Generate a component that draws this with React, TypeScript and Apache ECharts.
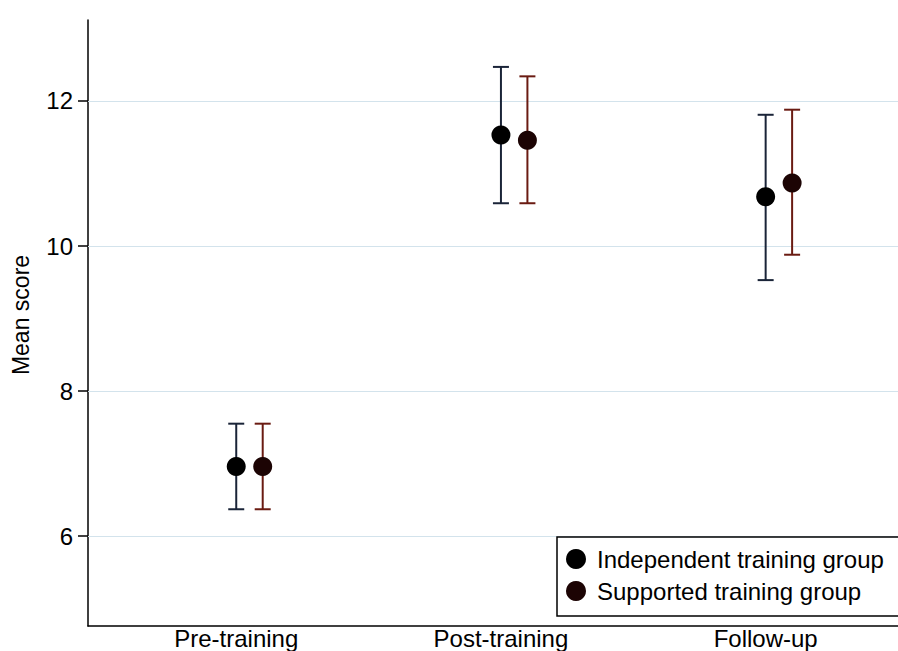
import React, { useEffect, useRef } from "react";
import * as echarts from "echarts";

const categories = ["Pre-training", "Post-training", "Follow-up"];
const categoryPositions = [1, 2, 3];
const groupOffset = 0.1;
const independentMean = [6.96, 11.53, 10.68];
const independentLow = [6.37, 10.59, 9.53];
const independentHigh = [7.55, 12.47, 11.81];
const supportedMean = [6.96, 11.46, 10.87];
const supportedLow = [6.37, 10.59, 9.88];
const supportedHigh = [7.55, 12.34, 11.88];
const yTicks = [6, 8, 10, 12];
const seriesNames = ["Independent training group", "Supported training group"];

const FONT = "'Liberation Sans', Arial, Helvetica, sans-serif";

function errorSeries(name: string, xs: number[], lows: number[], highs: number[], color: string) {
  return {
    type: "custom",
    name: name + " CI",
    silent: true,
    data: xs.map((x, i) => [x, lows[i], highs[i]]),
    encode: { x: 0, y: [1, 2] },
    renderItem: (params: any, api: any) => {
      const x = api.value(0);
      const lo = api.coord([x, api.value(1)]);
      const hi = api.coord([x, api.value(2)]);
      const hw = 8;
      const style = { stroke: color, lineWidth: 2 };
      return {
        type: "group",
        children: [
          { type: "line", shape: { x1: lo[0], y1: lo[1], x2: hi[0], y2: hi[1] }, style },
          { type: "line", shape: { x1: lo[0] - hw, y1: lo[1], x2: lo[0] + hw, y2: lo[1] }, style },
          { type: "line", shape: { x1: hi[0] - hw, y1: hi[1], x2: hi[0] + hw, y2: hi[1] }, style },
        ],
      };
    },
    z: 2,
  };
}

export default function App() {
  const ref = useRef<HTMLDivElement>(null);
  useEffect(() => {
    if (!ref.current) return;
    const chart = echarts.init(ref.current, undefined, { renderer: "svg" });
    const indX = categoryPositions;
    const supX = categoryPositions.map((p) => p + groupOffset);
    chart.setOption({
      animation: false,
      backgroundColor: "#ffffff",
      textStyle: { fontFamily: FONT },
      grid: { left: 88, right: 0, top: 20, bottom: 25, containLabel: false },
      graphic: [
        {
          type: "rect",
          z: 3,
          silent: true,
          shape: { x: 557, y: 537, width: 360, height: 79 },
          style: { fill: "#ffffff", stroke: "#000000", lineWidth: 1.5 },
        },
      ],
      legend: {
        orient: "vertical",
        left: 557,
        top: 537,
        z: 5,
        padding: [10, 10, 11, 9],
        itemGap: 8,
        itemWidth: 20,
        itemHeight: 20,
        backgroundColor: "transparent",
        borderWidth: 0,
        data: [
          { name: seriesNames[0], icon: "circle" },
          { name: seriesNames[1], icon: "circle" },
        ],
        textStyle: { fontSize: 24, color: "#000", fontFamily: FONT, padding: [0, 0, 0, 6] },
        selectedMode: false,
      },
      xAxis: {
        type: "value",
        min: 0.44,
        max: 3.5,
        axisLine: { show: true, lineStyle: { color: "#000", width: 1.5 } },
        axisTick: { show: false },
        splitLine: { show: false },
        axisLabel: {
          customValues: categoryPositions,
          formatter: (v: number) => categories[categoryPositions.indexOf(Math.round(v))] ?? "",
          fontSize: 24,
          color: "#000",
          margin: 0,
          fontFamily: FONT,
        },
      },
      yAxis: {
        type: "value",
        min: 4.76,
        max: 13.117,
        name: "Mean score",
        nameLocation: "middle",
        nameGap: 56,
        nameTextStyle: { fontSize: 23, color: "#000", fontFamily: FONT, padding: [0, 0, 0, 16] },
        axisLine: { show: true, lineStyle: { color: "#000", width: 1.5 } },
        axisTick: { show: true, customValues: yTicks, length: 10, lineStyle: { color: "#000", width: 1.5 } },
        splitLine: { show: false },
        axisLabel: {
          customValues: yTicks,
          fontSize: 24,
          color: "#000",
          margin: 15,
          fontFamily: FONT,
        },
      },
      series: [
        errorSeries(seriesNames[0], indX, independentLow, independentHigh, "#1a2438"),
        errorSeries(seriesNames[1], supX, supportedLow, supportedHigh, "#6a1b12"),
        {
          type: "scatter",
          name: seriesNames[0],
          data: indX.map((x, i) => [x, independentMean[i]]),
          symbol: "circle",
          symbolSize: 19,
          itemStyle: { color: "#000000", opacity: 1 },
          z: 3,
          markLine: {
            silent: true,
            symbol: "none",
            label: { show: false },
            lineStyle: { color: "#d3e3ec", width: 1.2, type: "solid" },
            data: yTicks.map((t) => ({ yAxis: t })),
            z: 1,
          },
        },
        {
          type: "scatter",
          name: seriesNames[1],
          data: supX.map((x, i) => [x, supportedMean[i]]),
          symbol: "circle",
          symbolSize: 19,
          itemStyle: { color: "#1c0404", opacity: 1 },
          z: 3,
        },
      ],
    });
    return () => chart.dispose();
  }, []);
  return (
    <div
      ref={ref}
      style={{ position: "fixed", left: 0, top: 0, width: 898, height: 651 }}
    />
  );
}
